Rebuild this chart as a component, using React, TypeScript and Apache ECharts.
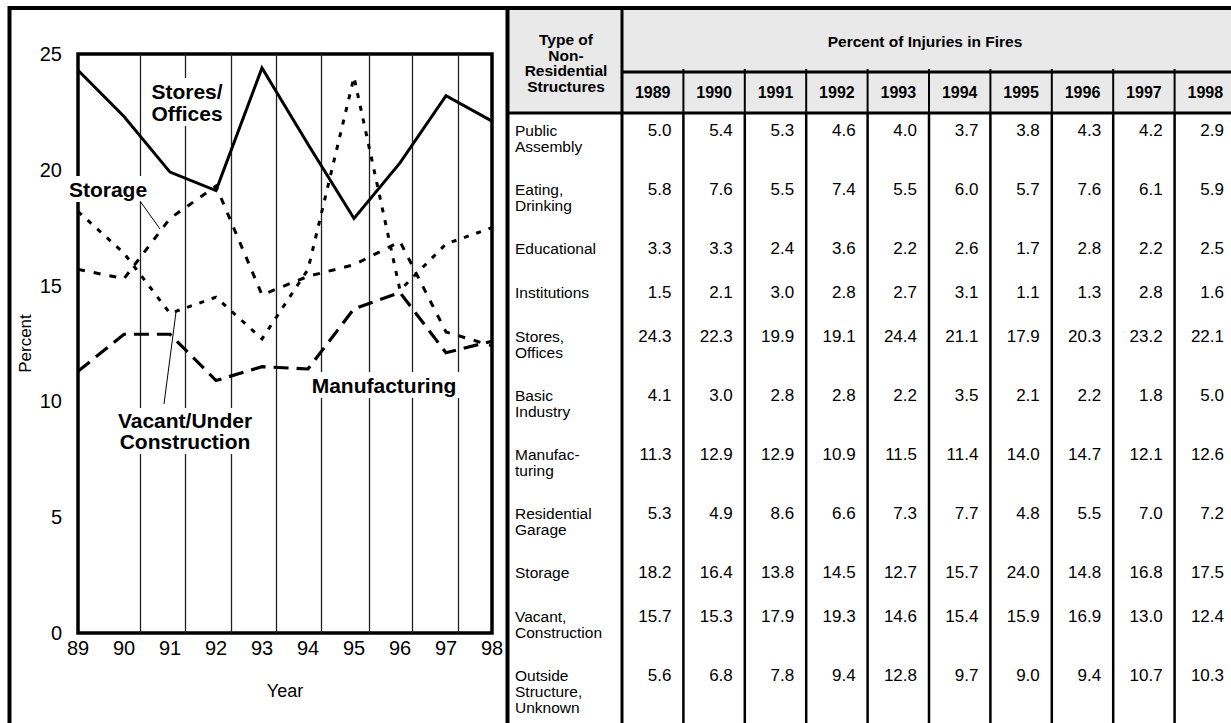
import React, { useEffect, useRef } from "react";
import * as echarts from "echarts";

// ---- data ----
const years = [1989, 1990, 1991, 1992, 1993, 1994, 1995, 1996, 1997, 1998];
const axisYears = [89, 90, 91, 92, 93, 94, 95, 96, 97, 98];
const yTicks = [0, 5, 10, 15, 20, 25];

const publicAssembly = [5.0, 5.4, 5.3, 4.6, 4.0, 3.7, 3.8, 4.3, 4.2, 2.9];
const eatingDrinking = [5.8, 7.6, 5.5, 7.4, 5.5, 6.0, 5.7, 7.6, 6.1, 5.9];
const educational = [3.3, 3.3, 2.4, 3.6, 2.2, 2.6, 1.7, 2.8, 2.2, 2.5];
const institutions = [1.5, 2.1, 3.0, 2.8, 2.7, 3.1, 1.1, 1.3, 2.8, 1.6];
const storesOffices = [24.3, 22.3, 19.9, 19.1, 24.4, 21.1, 17.9, 20.3, 23.2, 22.1];
const basicIndustry = [4.1, 3.0, 2.8, 2.8, 2.2, 3.5, 2.1, 2.2, 1.8, 5.0];
const manufacturing = [11.3, 12.9, 12.9, 10.9, 11.5, 11.4, 14.0, 14.7, 12.1, 12.6];
const residentialGarage = [5.3, 4.9, 8.6, 6.6, 7.3, 7.7, 4.8, 5.5, 7.0, 7.2];
const storage = [18.2, 16.4, 13.8, 14.5, 12.7, 15.7, 24.0, 14.8, 16.8, 17.5];
const vacantConstruction = [15.7, 15.3, 17.9, 19.3, 14.6, 15.4, 15.9, 16.9, 13.0, 12.4];
const outsideUnknown = [5.6, 6.8, 7.8, 9.4, 12.8, 9.7, 9.0, 9.4, 10.7, 10.3];

const rowLabels = [
  ["Public", "Assembly"],
  ["Eating,", "Drinking"],
  ["Educational"],
  ["Institutions"],
  ["Stores,", "Offices"],
  ["Basic", "Industry"],
  ["Manufac-", "turing"],
  ["Residential", "Garage"],
  ["Storage"],
  ["Vacant,", "Construction"],
  ["Outside", "Structure,", "Unknown"],
];
const rowValues = [
  publicAssembly, eatingDrinking, educational, institutions, storesOffices,
  basicIndustry, manufacturing, residentialGarage, storage, vacantConstruction, outsideUnknown,
];

// vertical rules of the plot (x positions in axis units, as drawn in the source)
const ruleXs = [90.35, 91.33, 92.33, 93.3, 94.28, 95.33, 96.27, 97.27];

const FONT = "'Liberation Sans', Arial, sans-serif";

function pairs(vals: number[]) {
  return axisYears.map((x, i) => [x, vals[i]]);
}

function buildGraphics() {
  const g: any[] = [];
  const black = "#000";
  const line = (x1: number, y1: number, x2: number, y2: number, w: number, z = 50) =>
    g.push({ type: "line", silent: true, z, shape: { x1, y1, x2, y2 }, style: { stroke: black, lineWidth: w } });
  const text = (x: number, y: number, t: string, opts: any = {}, z = 60) =>
    g.push({
      type: "text", x, y, z, silent: true,
      style: { text: t, fontFamily: FONT, fill: black, align: "left", verticalAlign: "middle", ...opts },
    });

  // ---- table ----
  const tLeft = 508;
  const labRight = 622;
  const colW = 61.4;
  const hTop = 8;
  const h1 = 72;
  const h2 = 113;
  const W = 1231;
  const H = 723;

  g.push({ type: "rect", silent: true, z: 40, shape: { x: tLeft, y: hTop, width: W - tLeft, height: h2 - hTop }, style: { fill: "#e9e9e9" } });

  // frame lines
  line(8, hTop, W, hTop, 4);
  line(9.5, hTop - 2, 9.5, H, 4);
  line(507.5, hTop - 2, 507.5, H, 4);
  line(labRight, hTop, labRight, H, 3);
  line(labRight, h1, W, h1, 3);
  line(tLeft, h2, W, h2, 3);
  for (let k = 1; k < years.length; k++) {
    const x = labRight + colW * k;
    line(x, h1 - 3, x, h2, 2);
    line(x, h2, x, H, 2.5);
  }

  // header texts
  text(566, 63, "Type of\nNon-\nResidential\nStructures", {
    align: "center", fontWeight: "bold", fontSize: 15.5, lineHeight: 15.7,
  });
  text(925, 41, "Percent of Injuries in Fires", { align: "center", fontWeight: "bold", fontSize: 15.5 });
  years.forEach((yr, i) => {
    text(labRight + colW * i + colW / 2, 92, String(yr), { align: "center", fontWeight: "bold", fontSize: 16 });
  });

  // body
  let y = 130;
  rowLabels.forEach((lab, r) => {
    text(515, y + ((lab.length - 1) * 16) / 2, lab.join("\n"), { fontSize: 15.5, lineHeight: 16 });
    rowValues[r].forEach((v, i) => {
      text(labRight + colW * (i + 1) - 12, y, v.toFixed(1), { align: "right", fontSize: 17 });
    });
    y += lab.length === 1 ? 44 : 59;
  });

  // ---- chart annotations ----
  const ann = (x: number, yy: number, t: string, lh: number) =>
    text(x, yy, t, {
      align: "center", fontWeight: "bold", fontSize: 21, lineHeight: lh,
      backgroundColor: "#fff", padding: [2, 5, 2, 5],
    }, 80);
  ann(187, 102, "Stores/\nOffices", 22);
  ann(108, 189, "Storage", 22);
  ann(185, 431, "Vacant/Under\nConstruction", 21);
  ann(384, 385, "Manufacturing", 22);
  line(140, 201, 160, 229, 1, 85);
  line(164, 404, 176, 312, 1, 85);

  return g;
}

export default function App() {
  const ref = useRef<HTMLDivElement>(null);
  useEffect(() => {
    document.body.style.margin = "0";
    const chart = echarts.init(ref.current!, null, { renderer: "svg" });
    const lineSeries = (name: string, vals: number[], type: any, width: number) => ({
      name,
      type: "line",
      data: pairs(vals),
      symbol: "none",
      z: 5,
      lineStyle: { color: "#000", width, type, cap: "butt", join: "miter" },
    });
    chart.setOption({
      animation: false,
      backgroundColor: "#fff",
      grid: { left: 78, top: 54, width: 414, height: 579, show: true, borderColor: "#000", borderWidth: 3.5, backgroundColor: "transparent" },
      xAxis: {
        type: "value",
        min: 89,
        max: 98,
        interval: 1,
        name: "Year",
        nameLocation: "middle",
        nameGap: 49,
        nameTextStyle: { fontFamily: FONT, fontSize: 18, color: "#000" },
        axisLine: { show: false },
        axisTick: { show: false },
        splitLine: { show: false },
        axisLabel: {
          fontFamily: FONT, fontSize: 20, color: "#000", margin: 5,
          formatter: (v: number) => (axisYears.includes(v) ? String(v) : ""),
        },
      },
      yAxis: {
        type: "value",
        min: yTicks[0],
        max: yTicks[yTicks.length - 1],
        interval: 5,
        name: "Percent",
        nameLocation: "middle",
        nameRotate: 90,
        nameGap: 44,
        nameTextStyle: { fontFamily: FONT, fontSize: 17, color: "#000" },
        axisLine: { show: false },
        axisTick: { show: false },
        splitLine: { show: false },
        axisLabel: { fontFamily: FONT, fontSize: 20, color: "#000", margin: 16 },
      },
      series: [
        {
          type: "line",
          data: [],
          symbol: "none",
          silent: true,
          markLine: {
            silent: true,
            symbol: ["none", "none"],
            label: { show: false },
            lineStyle: { color: "#222", width: 1.3, type: "solid" },
            data: ruleXs.map((x) => ({ xAxis: x })),
          },
        },
        lineSeries("Stores/Offices", storesOffices, "solid", 3),
        lineSeries("Storage", storage, [5, 8], 3),
        lineSeries("Vacant/Under Construction", vacantConstruction, [7, 9], 3),
        lineSeries("Manufacturing", manufacturing, [15, 8], 3.2),
      ],
      graphic: buildGraphics(),
    });
    return () => chart.dispose();
  }, []);
  return <div ref={ref} style={{ width: 1231, height: 723 }} />;
}
